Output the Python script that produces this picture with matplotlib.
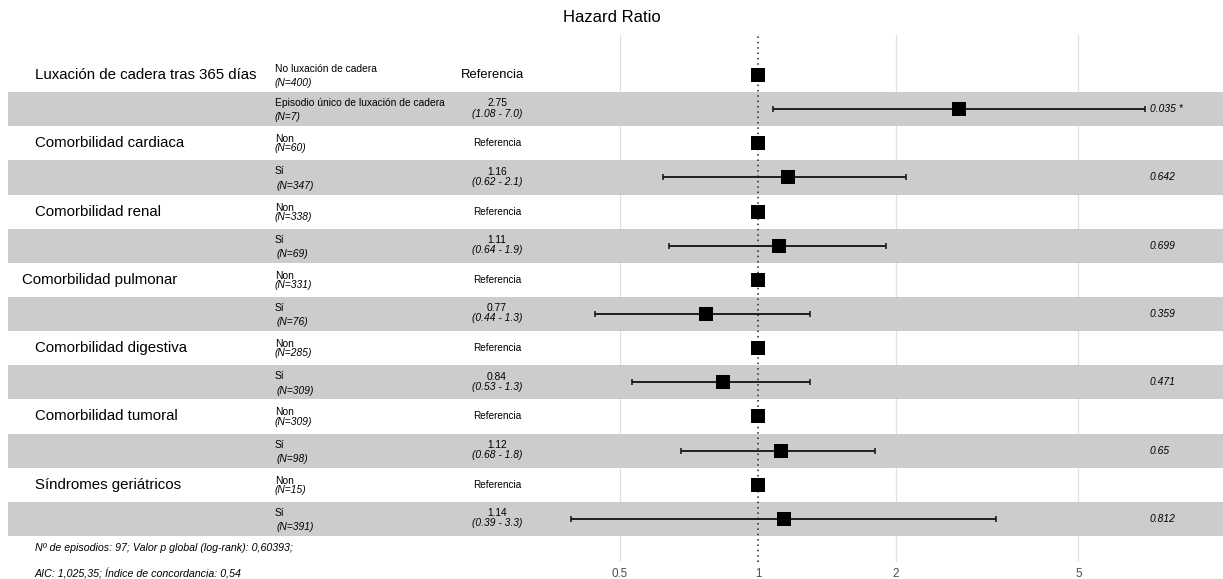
import matplotlib
matplotlib.use("Agg")
import matplotlib.pyplot as plt
import matplotlib.transforms as mtransforms
import numpy as np

plt.rcParams["font.family"] = ["Liberation Sans", "DejaVu Sans"]

# data
variables = [
    "Luxación de cadera tras 365 días",
    "Comorbilidad cardiaca",
    "Comorbilidad renal",
    "Comorbilidad pulmonar",
    "Comorbilidad digestiva",
    "Comorbilidad tumoral",
    "Síndromes geriátricos",
]
ref_levels = ["No luxación de cadera", "Non", "Non", "Non", "Non", "Non", "Non"]
ref_n = [400, 60, 338, 331, 285, 309, 15]
alt_levels = ["Episodio único de luxación de cadera", "Sí", "Sí", "Sí", "Sí", "Sí", "Sí"]
alt_n = [7, 347, 69, 76, 309, 98, 391]
hr = [2.75, 1.16, 1.11, 0.77, 0.84, 1.12, 1.14]
ci_low = [1.08, 0.62, 0.64, 0.44, 0.53, 0.68, 0.39]
ci_high = [7.0, 2.1, 1.9, 1.3, 1.3, 1.8, 3.3]
p_labels = ["0.035 *", "0.642", "0.699", "0.359", "0.471", "0.65", "0.812"]
x_ticks = [0.5, 1, 2, 5]
footnote = [
    "Nº de episodios: 97; Valor p global (log-rank): 0,60393;",
    "AIC: 1,025,35; Índice de concordancia: 0,54",
]

W, H = 1223, 579
fig = plt.figure(figsize=(W / 100, H / 100), dpi=100)

# axis spans the full width; y rows are 1..14 (top to bottom)
ax_top_px, ax_bot_px = 35, 562
ax = fig.add_axes([0, 1 - ax_bot_px / H, 1, (ax_bot_px - ax_top_px) / H])
row0_px, row_step = 75, 34.15
ax.set_ylim(1 + (ax_bot_px - row0_px) / row_step, 1 + (ax_top_px - row0_px) / row_step)

px_one, px_decade = 758, 458.5
ax.set_xscale("log")
ax.set_xlim(10 ** (-px_one / px_decade), 10 ** ((W - px_one) / px_decade))
for s in ax.spines.values():
    s.set_visible(False)
ax.set_yticks([])
ax.set_xticks(x_ticks)
ax.set_xticklabels([f"{t:g}" for t in x_ticks])
ax.xaxis.set_minor_locator(matplotlib.ticker.NullLocator())
ax.tick_params(axis="x", length=0, pad=4, labelsize=8.4, labelcolor="#4d4d4d")

for t in x_ticks:
    if t != 1:
        ax.axvline(t, color="#e0e0e0", lw=0.9, zorder=0)
ax.axvline(1, color="#222222", lw=1.1, ls=(0, (1, 2.5)), zorder=4)

n_var = len(variables)
ref_rows = np.arange(n_var) * 2 + 1
alt_rows = ref_rows + 1

for r in alt_rows:
    ax.axhspan(r - 0.5, r + 0.5, xmin=8 / W, xmax=1, color="#cccccc", lw=0, zorder=1)

# squares and confidence intervals
ax.plot(np.ones(n_var), ref_rows, ls="none", marker="s", ms=9.6, mew=0, color="black", zorder=5)
hr_a = np.array(hr)
err = np.vstack([hr_a - np.array(ci_low), np.array(ci_high) - hr_a])
ax.errorbar(hr_a, alt_rows, xerr=err, fmt="none", ecolor="#111111", elinewidth=1.3,
            capsize=2.5, capthick=1.1, zorder=5)
ax.plot(hr_a, alt_rows, ls="none", marker="s", ms=9.6, mew=0, color="black", zorder=6)

# table text
tr = mtransforms.blended_transform_factory(fig.transFigure, ax.transData)
var_x = [35, 35, 35, 22, 35, 35, 35]
for i in range(n_var):
    r1, r2 = ref_rows[i], alt_rows[i]
    ax.text(var_x[i] / W, r1, variables[i], transform=tr, ha="left", va="center", fontsize=10.8)
    if i == 0:
        ax.text(275 / W, r1 - 0.18, ref_levels[i], transform=tr, ha="left", va="center", fontsize=7.4)
        ax.text(275 / W, r1 + 0.24, f"(N={ref_n[i]})", transform=tr, ha="left", va="center",
                fontsize=7.4, style="italic")
        ax.text(493 / W, r1, "Referencia", transform=tr, ha="center", va="center", fontsize=9.4)
    else:
        ax.text(275 / W, r1 - 0.12, ref_levels[i], transform=tr, ha="left", va="center", fontsize=7.4)
        ax.text(275 / W, r1 + 0.15, f"(N={ref_n[i]})", transform=tr, ha="left", va="center",
                fontsize=7.4, style="italic")
        ax.text(497 / W, r1, "Referencia", transform=tr, ha="center", va="center", fontsize=7.2)
    nx = 275 if i == 0 else 277
    ax.text(275 / W, r2 - 0.18, alt_levels[i], transform=tr, ha="left", va="center", fontsize=7.4)
    ax.text(nx / W, r2 + 0.24, f"(N={alt_n[i]})", transform=tr, ha="left", va="center",
            fontsize=7.4, style="italic")
    ax.text(497 / W, r2 - 0.17, f"{hr[i]:.2f}", transform=tr, ha="center", va="center", fontsize=7.4)
    ax.text(497 / W, r2 + 0.13, f"({ci_low[i]:g} - {ci_high[i]:.1f})", transform=tr, ha="center",
            va="center", fontsize=7.4, style="italic")
    ax.text(1150 / W, r2, p_labels[i], transform=tr, ha="left", va="center", fontsize=7.4,
            style="italic")

fig.text(612 / W, 1 - 18 / H, "Hazard Ratio", ha="center", va="center", fontsize=12)
fig.text(35 / W, 1 - 548 / H, footnote[0], ha="left", va="center", fontsize=7.7, style="italic")
fig.text(35 / W, 1 - 574 / H, footnote[1], ha="left", va="center", fontsize=7.7, style="italic")

fig.savefig("out.png", dpi=100)
